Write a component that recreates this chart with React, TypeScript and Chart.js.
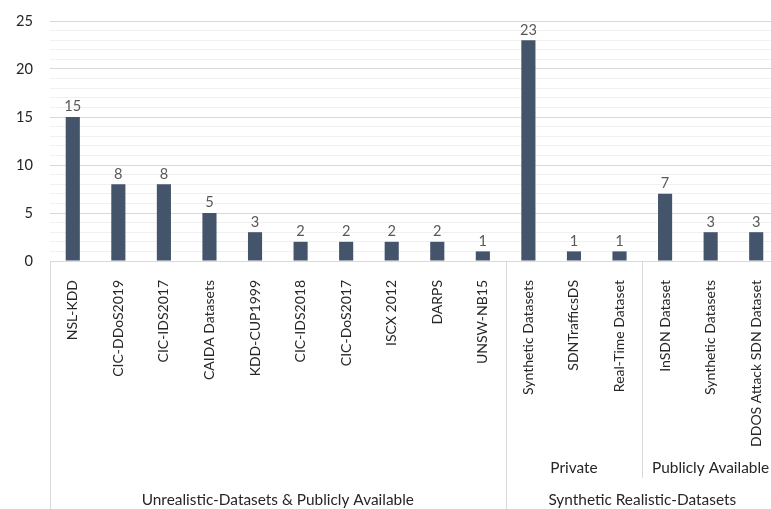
import React, { useEffect, useRef } from "react";
import { Chart, registerables } from "chart.js";

Chart.register(...registerables);

const categories = [
  "NSL-KDD", "CIC-DDoS2019", "CIC-IDS2017", "CAIDA Datasets", "KDD-CUP1999",
  "CIC-IDS2018", "CIC-DoS2017", "ISCX 2012", "DARPS", "UNSW-NB15",
  "Synthetic Datasets", "SDNTrafficsDS", "Real-Time Dataset",
  "InSDN Dataset", "Synthetic Datasets", "DDOS Attack SDN Dataset",
];
const values = [15, 8, 8, 5, 3, 2, 2, 2, 2, 1, 23, 1, 1, 7, 3, 3];
const subGroupLabels = ["", "Private", "Publicly Available"];
const subGroupSizes = [10, 3, 3];
const groupLabels = ["Unrealistic-Datasets & Publicly Available", "Synthetic Realistic-Datasets"];
const groupSizes = [10, 6];

const FONT = "Lato, 'Open Sans', sans-serif";
const FS_GROUP = 15.4;
const FS_XTICK = 14;
const FS_NUM = 14.6;
const LINE = "#d9d9d9";

const overlay = {
  id: "overlay",
  afterDatasetsDraw(chart: any) {
    const ctx = chart.ctx;
    const meta = chart.getDatasetMeta(0);
    ctx.save();
    ctx.font = `${FS_NUM}px ${FONT}`;
    ctx.fillStyle = "#595959";
    ctx.textAlign = "center";
    ctx.textBaseline = "bottom";
    meta.data.forEach((bar: any, i: number) => {
      ctx.fillText(String(values[i]), bar.x, bar.y - 3);
    });
    ctx.restore();
  },
  afterDraw(chart: any) {
    const ctx = chart.ctx;
    const x = chart.scales.x;
    const bottom = chart.chartArea.bottom;
    const H = chart.height;
    const step = x.getPixelForValue(1) - x.getPixelForValue(0);
    const edge = (i: number) => x.getPixelForValue(i) - step / 2;
    ctx.save();
    ctx.strokeStyle = LINE;
    ctx.lineWidth = 1;
    let start = 0;
    const groupStarts = new Set<number>();
    ctx.font = `${FS_GROUP}px ${FONT}`;
    ctx.fillStyle = "#262626";
    ctx.textAlign = "center";
    ctx.textBaseline = "middle";
    groupSizes.forEach((n, gi) => {
      groupStarts.add(start);
      const xs = Math.round(edge(start)) + 0.5;
      ctx.beginPath();
      ctx.moveTo(xs, bottom);
      ctx.lineTo(xs, H);
      ctx.stroke();
      const cx = (edge(start) + edge(start + n)) / 2;
      ctx.fillText(groupLabels[gi], cx, H - 9);
      start += n;
    });
    start = 0;
    subGroupSizes.forEach((n, si) => {
      if (!groupStarts.has(start)) {
        const xs = Math.round(edge(start)) + 0.5;
        ctx.beginPath();
        ctx.moveTo(xs, bottom);
        ctx.lineTo(xs, H - 31);
        ctx.stroke();
      }
      if (subGroupLabels[si]) {
        const cx = (edge(start) + edge(start + n)) / 2;
        ctx.fillText(subGroupLabels[si], cx, H - 41);
      }
      start += n;
    });
    ctx.restore();
  },
};

export default function App() {
  const ref = useRef<HTMLCanvasElement>(null);
  useEffect(() => {
    const chart = new Chart(ref.current!, {
      type: "bar",
      data: {
        labels: categories,
        datasets: [
          {
            data: values,
            backgroundColor: "#44546A",
            barPercentage: 0.31,
            categoryPercentage: 1,
          },
        ],
      },
      options: {
        responsive: false,
        animation: false,
        layout: { padding: { top: 21, right: 0, left: 0, bottom: 0 } },
        plugins: { legend: { display: false }, tooltip: { enabled: false } },
        scales: {
          x: {
            grid: { display: false },
            border: { display: true, color: LINE },
            ticks: {
              color: "#262626",
              font: { family: FONT, size: FS_XTICK },
              minRotation: 90,
              maxRotation: 90,
              autoSkip: false,
              padding: 11,
            },
            afterFit: (s: any) => { s.height = 248; },
          },
          y: {
            min: 0,
            max: 25,
            border: { display: false },
            grid: {
              drawTicks: false,
              color: (c: any) => (c.tick && c.tick.value % 5 === 0 ? "#d9d9d9" : "#f0f0f0"),
            },
            ticks: {
              stepSize: 1,
              autoSkip: false,
              color: "#262626",
              font: { family: FONT, size: FS_NUM },
              padding: 17,
              callback: (v: any) => (v % 5 === 0 ? String(v) : ""),
            },
            afterFit: (s: any) => { s.width = 50; s.paddingTop = 0; s.paddingBottom = 0; },
          },
        },
      },
      plugins: [overlay],
    });
    return () => chart.destroy();
  }, []);
  return (
    <div style={{ position: "fixed", left: 0, top: 0, width: 771, height: 509, overflow: "hidden", background: "#fff" }}>
      <canvas ref={ref} width={784} height={509} style={{ display: "block" }} />
    </div>
  );
}
